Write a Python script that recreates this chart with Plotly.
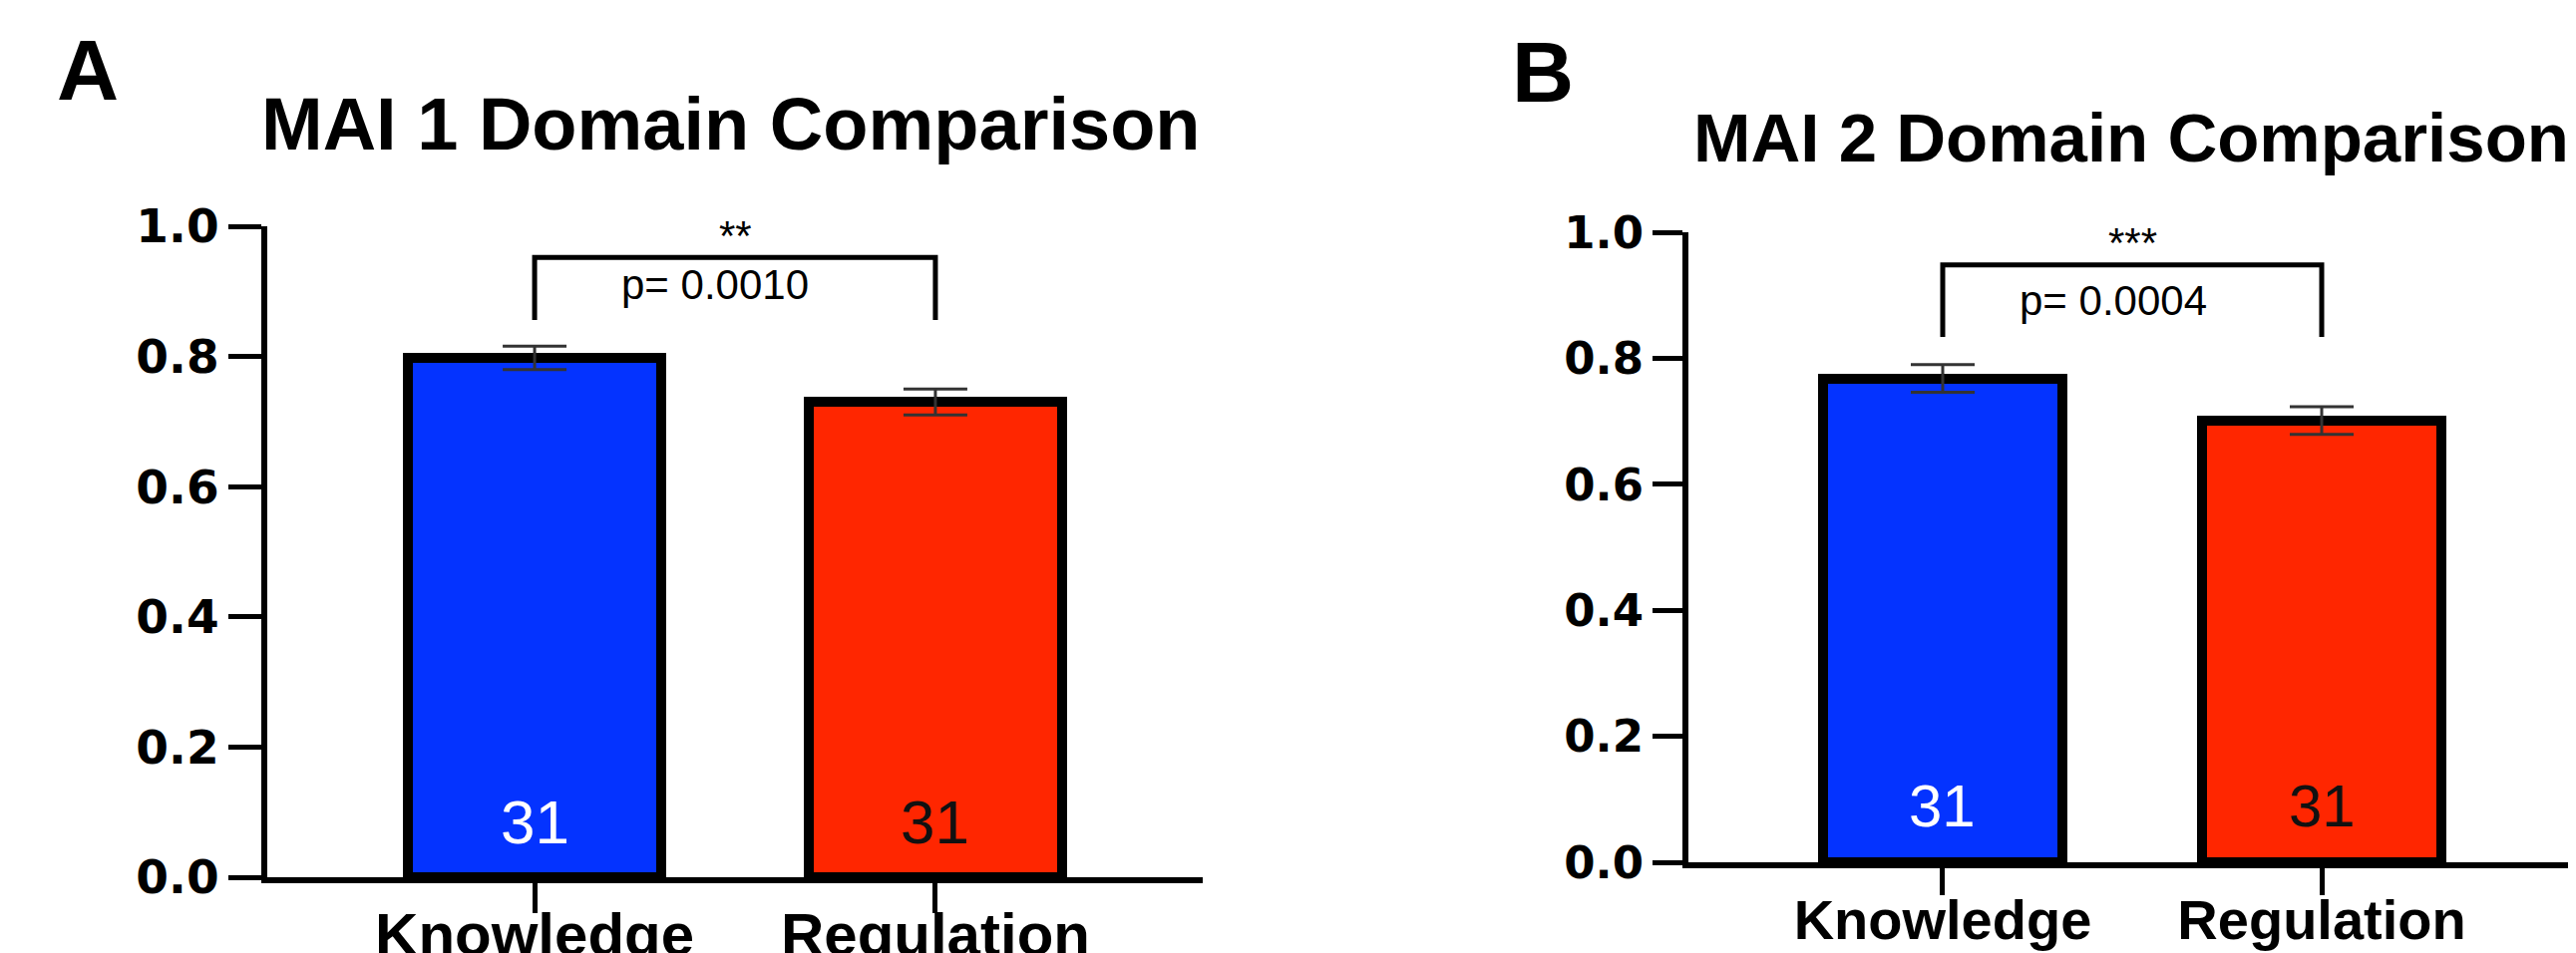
import plotly.graph_objects as go

# ---------------- data ----------------
categories = ["Knowledge", "Regulation"]

mai1_means = [0.798, 0.730]
mai1_sem = [0.018, 0.020]
mai2_means = [0.768, 0.701]
mai2_sem = [0.022, 0.022]

n_counts = [31, 31]

mai1_p = "0.0010"
mai1_stars = "**"
mai2_p = "0.0004"
mai2_stars = "***"

titles = ["MAI 1 Domain Comparison", "MAI 2 Domain Comparison"]
panel_letters = ["A", "B"]
y_tickvals = [0.0, 0.2, 0.4, 0.6, 0.8, 1.0]
y_ticktext = ["0.0", "0.2", "0.4", "0.6", "0.8", "1.0"]

# ---------------- styling ----------------
bar_colors = ["#0433FF", "#FF2600"]
n_text_colors = ["white", "#111111"]
W, H = 2583, 956

panels = [
    dict(means=mai1_means, sem=mai1_sem, p=mai1_p, stars=mai1_stars,
         xa="x", ya="y", xdom=[260 / W, 1198 / W], ydom=[(H - 872) / H, (H - 219) / H],
         xrange=[-0.667, 1.667], barw=0.632,
         br_top=0.952, br_end=0.856, p_y=0.910, s_y=0.985, n_y=0.085,
         tickfs=47, xtickfs=60, ticklen_x=30, ticklen_y=33, ncap=62, pfs=42, standoff=-30,
         title_x=725 / W, title_y=(H - 116) / H, title_fs=74,
         letter_x=80 / W, letter_y=(H - 62) / H),
    dict(means=mai2_means, sem=mai2_sem, p=mai2_p, stars=mai2_stars,
         xa="x2", ya="y2", xdom=[1685 / W, 2575 / W], ydom=[(H - 857) / H, (H - 225) / H],
         xrange=[-0.671, 1.671], barw=0.634,
         br_top=0.948, br_end=0.834, p_y=0.891, s_y=0.984, n_y=0.089,
         tickfs=45, xtickfs=56, ticklen_x=27, ticklen_y=30, ncap=60, pfs=42, standoff=-23,
         title_x=2129 / W, title_y=(H - 130) / H, title_fs=69,
         letter_x=1539 / W, letter_y=(H - 64) / H),
]

fig = go.Figure()
annotations = []
layout_axes = {}

for i, pn in enumerate(panels):
    fig.add_trace(go.Bar(
        x=categories, y=pn["means"], width=pn["barw"],
        marker=dict(color=bar_colors, line=dict(color="black", width=10)),
        error_y=dict(type="data", array=pn["sem"], color="#333333", thickness=3, width=32),
        xaxis=pn["xa"], yaxis=pn["ya"], showlegend=False, hoverinfo="skip",
    ))
    # significance bracket
    fig.add_trace(go.Scatter(
        x=[categories[0], categories[0], categories[1], categories[1]],
        y=[pn["br_end"], pn["br_top"], pn["br_top"], pn["br_end"]],
        mode="lines", line=dict(color="black", width=5),
        xaxis=pn["xa"], yaxis=pn["ya"], showlegend=False, hoverinfo="skip",
        cliponaxis=False,
    ))
    xr = pn["xa"]
    yr = pn["ya"]
    annotations.append(dict(x=0.5, y=pn["s_y"], xref=xr, yref=yr, text=pn["stars"],
                            showarrow=False, font=dict(family="Liberation Sans", size=42, color="black"),
                            yanchor="middle"))
    annotations.append(dict(x=0.45, y=pn["p_y"], xref=xr, yref=yr, text="p= " + pn["p"],
                            showarrow=False, font=dict(family="Liberation Sans", size=pn["pfs"], color="black"),
                            yanchor="middle"))
    for j, cat in enumerate(categories):
        annotations.append(dict(x=cat, y=pn["n_y"], xref=xr, yref=yr, text=str(n_counts[j]),
                                showarrow=False,
                                font=dict(family="Liberation Sans", size=pn["ncap"], color=n_text_colors[j]),
                                yanchor="middle"))
    annotations.append(dict(x=pn["title_x"], y=pn["title_y"], xref="paper", yref="paper",
                            text=titles[i], showarrow=False, xanchor="center", yanchor="middle",
                            font=dict(family="Liberation Sans", size=pn["title_fs"], color="black", weight="bold")))
    annotations.append(dict(x=pn["letter_x"], y=pn["letter_y"], xref="paper", yref="paper",
                            text=panel_letters[i], showarrow=False, xanchor="center", yanchor="middle",
                            font=dict(family="Liberation Sans", size=86, color="black", weight="bold")))

    xkey = "xaxis" if i == 0 else "xaxis2"
    ykey = "yaxis" if i == 0 else "yaxis2"
    layout_axes[xkey] = dict(
        domain=pn["xdom"], range=pn["xrange"], anchor=pn["ya"], automargin=False,
        showline=True, linewidth=6, linecolor="black", mirror=False,
        ticks="outside", ticklen=pn["ticklen_x"], tickwidth=5, tickcolor="black",
        tickfont=dict(family="Liberation Sans", size=pn["xtickfs"], color="black", weight="bold"),
        showgrid=False, zeroline=False, ticklabelstandoff=pn["standoff"],
    )
    layout_axes[ykey] = dict(
        domain=pn["ydom"], range=[0, 1], anchor=pn["xa"], automargin=False,
        tickvals=y_tickvals, ticktext=y_ticktext,
        showline=True, linewidth=6, linecolor="black",
        ticks="outside", ticklen=pn["ticklen_y"], tickwidth=5, tickcolor="black",
        tickfont=dict(family="DejaVu Sans", size=pn["tickfs"], color="black", weight="bold"),
        showgrid=False, zeroline=False,
    )

fig.update_layout(
    width=W, height=H,
    margin=dict(l=0, r=0, t=0, b=0, autoexpand=False),
    paper_bgcolor="white", plot_bgcolor="white",
    showlegend=False, annotations=annotations, bargap=0,
    **layout_axes,
)

fig.write_html("out.html")
